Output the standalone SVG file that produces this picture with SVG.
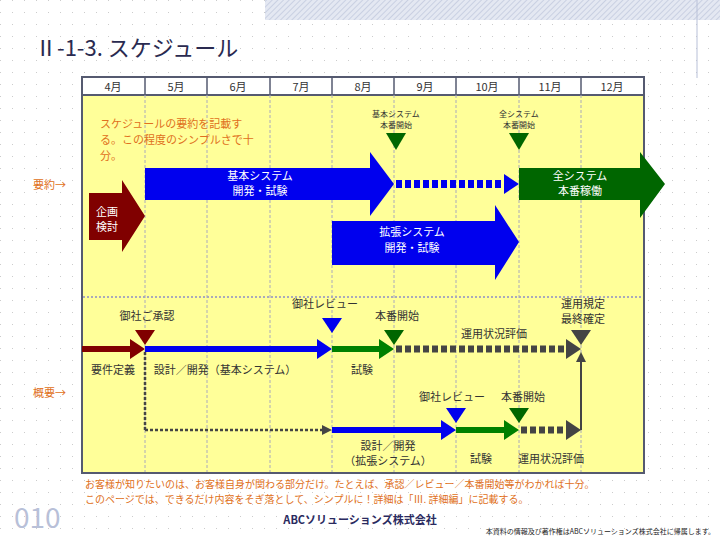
<svg xmlns="http://www.w3.org/2000/svg" width="720" height="540" viewBox="0 0 720 540">
<style>
text{font-family:"Noto Sans CJK JP","Liberation Sans",sans-serif}
.m{font-size:11px;fill:#333;text-anchor:middle}
.w{font-size:11px;fill:#fff;text-anchor:middle}
.s{font-size:8px;fill:#333;text-anchor:middle}
.o{font-size:11px;fill:#e07020}
.f{font-size:10px;fill:#e07020}
.g{stroke:#aab;stroke-dasharray:3,2;stroke-width:1}
</style>
<defs>
<pattern id="dots" width="12" height="12" patternUnits="userSpaceOnUse"><rect x="0" y="0" width="1" height="1" fill="#ccc"/></pattern>
<pattern id="hatch" width="4" height="4" patternUnits="userSpaceOnUse" patternTransform="rotate(45)"><rect width="4" height="4" fill="#e4e8f2"/><line x1="0" y1="0" x2="0" y2="4" stroke="#b8c0d8" stroke-width="1.2"/></pattern>
</defs>
<rect width="720" height="540" fill="#fff"/>
<rect width="720" height="540" fill="url(#dots)"/>
<rect x="265" y="0" width="455" height="20" fill="url(#hatch)"/>
<line x1="697" y1="0" x2="697" y2="78" stroke="#b8c0d8"/>
<text x="35" y="56" font-size="22" fill="#2a2a50">Ⅱ-1-3. スケジュール</text>

<g id="chart">
<rect x="82" y="77" width="562" height="396" fill="#ffff99" stroke="#555a70" stroke-width="2"/>
<rect x="82" y="77" width="562" height="18" fill="#fff" stroke="#555a70" stroke-width="2"/>
<g stroke="#555a70" stroke-width="1.5">
<line x1="145" y1="77" x2="145" y2="95"/><line x1="207" y1="77" x2="207" y2="95"/><line x1="270" y1="77" x2="270" y2="95"/><line x1="332" y1="77" x2="332" y2="95"/><line x1="394" y1="77" x2="394" y2="95"/><line x1="456" y1="77" x2="456" y2="95"/><line x1="519" y1="77" x2="519" y2="95"/><line x1="581" y1="77" x2="581" y2="95"/>
</g>
<g class="g">
<line x1="145" y1="95" x2="145" y2="472"/><line x1="207" y1="95" x2="207" y2="472"/><line x1="270" y1="95" x2="270" y2="472"/><line x1="332" y1="95" x2="332" y2="472"/><line x1="394" y1="95" x2="394" y2="472"/><line x1="456" y1="95" x2="456" y2="472"/><line x1="519" y1="95" x2="519" y2="472"/><line x1="581" y1="95" x2="581" y2="472"/>
</g>
<line x1="83" y1="297" x2="643" y2="297" stroke="#aab" stroke-width="2" stroke-dasharray="2,2"/>
<text class="m" x="113" y="91">4月</text><text class="m" x="176" y="91">5月</text><text class="m" x="238" y="91">6月</text><text class="m" x="301" y="91">7月</text><text class="m" x="363" y="91">8月</text><text class="m" x="425" y="91">9月</text><text class="m" x="487" y="91">10月</text><text class="m" x="550" y="91">11月</text><text class="m" x="612" y="91">12月</text>
</g>

<g id="summary-text">
<text class="o" x="100" y="128">スケジュールの要約を記載す</text>
<text class="o" x="100" y="144">る。この程度のシンプルさで十</text>
<text class="o" x="100" y="160">分。</text>
<text class="o" x="33" y="189">要約→</text>
<text class="o" x="33" y="397">概要→</text>
</g>

<g id="ms-basic"><text class="s" x="396" y="117">基本システム</text><text class="s" x="396" y="128">本番開始</text><polygon points="386,133 406,133 396,150" fill="#006600"/></g>
<g id="ms-all"><text class="s" x="519" y="117">全システム</text><text class="s" x="519" y="128">本番開始</text><polygon points="509,133 529,133 519,150" fill="#006600"/></g>

<g id="bar-basic"><polygon points="145,168 370,168 370,152 394,184 370,216 370,200 145,200" fill="#0000ee"/><text class="w" x="260" y="180">基本システム</text><text class="w" x="260" y="195">開発・試験</text></g>
<g id="bar-wait"><line x1="396" y1="184" x2="504" y2="184" stroke="#0000ee" stroke-width="8" stroke-dasharray="6,3"/><polygon points="504,174 519,184 504,194" fill="#0000ee"/></g>
<g id="bar-all"><polygon points="519,168 640,168 640,152 665,184 640,218 640,200 519,200" fill="#006600"/><text class="w" x="580" y="180">全システム</text><text class="w" x="580" y="195">本番稼働</text></g>
<g id="bar-plan"><polygon points="89,193 122,193 122,180 145,216 122,252 122,240 89,240" fill="#800000"/><text class="w" x="107" y="216">企画</text><text class="w" x="107" y="231">検討</text></g>
<g id="bar-ext"><polygon points="332,221 495,221 495,205 519,242 495,280 495,265 332,265" fill="#0000ee"/><text class="w" x="412" y="236">拡張システム</text><text class="w" x="412" y="252">開発・試験</text></g>

<g id="connectors">
<polygon points="82,346 130,346 130,339 145,349 130,359 130,352 82,352" fill="#800000"/>
<polygon points="145,346 317,346 317,339 332,349 317,359 317,352 145,352" fill="#0000ee"/>
<polygon points="332,346 379,346 379,339 394,349 379,359 379,352 332,352" fill="#008000"/>
<line x1="396" y1="349" x2="566" y2="349" stroke="#444" stroke-width="7" stroke-dasharray="6,3"/>
<polygon points="566,339 581,349 566,359" fill="#444"/>
<line x1="145" y1="352" x2="145" y2="430" stroke="#444" stroke-width="2.5" stroke-dasharray="3,2"/>
<line x1="145" y1="430" x2="324" y2="430" stroke="#444" stroke-width="2.5" stroke-dasharray="3,2"/>
<polygon points="322,425 332,430 322,435" fill="#444"/>
<polygon points="332,427 441,427 441,420 456,430 441,440 441,433 332,433" fill="#0000ee"/>
<polygon points="456,427 504,427 504,420 519,430 504,440 504,433 456,433" fill="#008000"/>
<line x1="521" y1="430" x2="566" y2="430" stroke="#444" stroke-width="7" stroke-dasharray="6,3"/>
<polygon points="566,420 581,430 566,440" fill="#444"/>
<line x1="581" y1="430" x2="581" y2="360" stroke="#444" stroke-width="2"/>
<polygon points="576,362 581,352 586,362" fill="#444"/>
</g>

<g id="lower-ms">
<text class="m" x="147" y="320">御社ご承認</text><polygon points="135,330 155,330 145,345" fill="#800000"/>
<text class="m" x="325" y="308">御社レビュー</text><polygon points="322,318 342,318 332,333" fill="#0000ee"/>
<text class="m" x="397" y="320">本番開始</text><polygon points="384,330 404,330 394,345" fill="#006600"/>
<text class="m" x="494" y="338">運用状況評価</text>
<text class="m" x="583" y="308">運用規定</text><text class="m" x="583" y="323">最終確定</text><polygon points="571,330 591,330 581,345" fill="#444"/>
<text class="m" x="113" y="374">要件定義</text>
<text class="m" x="225" y="374">設計／開発（基本システム）</text>
<text class="m" x="362" y="374">試験</text>
<text class="m" x="452" y="401">御社レビュー</text><polygon points="446,408 466,408 456,423" fill="#0000ee"/>
<text class="m" x="523" y="401">本番開始</text><polygon points="509,408 529,408 519,423" fill="#006600"/>
<text class="m" x="388" y="450">設計／開発</text>
<text class="m" x="388" y="465">（拡張システム）</text>
<text class="m" x="481" y="463">試験</text>
<text class="m" x="551" y="463">運用状況評価</text>
</g>

<g id="footer">
<text class="f" x="85" y="488">お客様が知りたいのは、お客様自身が関わる部分だけ。たとえば、承認／レビュー／本番開始等がわかれば十分。</text>
<text class="f" x="85" y="503">このページでは、できるだけ内容をそぎ落として、シンプルに！詳細は「Ⅲ. 詳細編」に記載する。</text>
<text x="14" y="528" font-size="28" fill="#b8c0d8" font-family="Liberation Sans,sans-serif">010</text>
<text x="360" y="524" font-size="11" font-weight="bold" fill="#2a2a60" text-anchor="middle">ABCソリューションズ株式会社</text>
<text x="715" y="534" font-size="7" fill="#222" text-anchor="end">本資料の情報及び著作権はABCソリューションズ株式会社に帰属します。</text>
</g>
</svg>
